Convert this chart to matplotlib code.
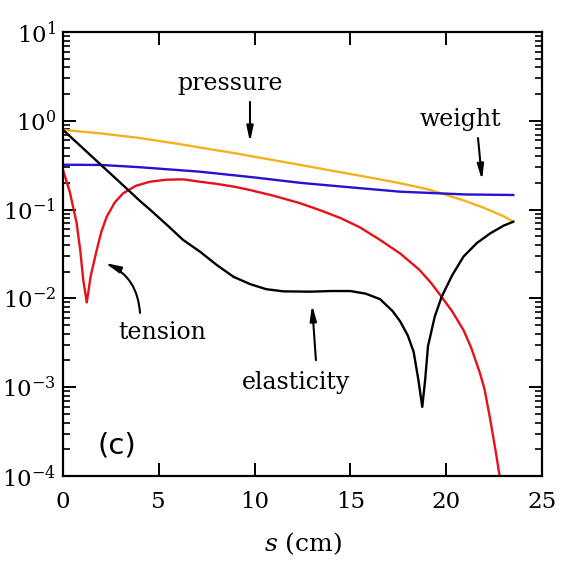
import numpy as np
import matplotlib.pyplot as plt
from matplotlib.ticker import LogLocator, FixedLocator, NullFormatter

plt.rcParams['font.family'] = 'DejaVu Serif'
plt.rcParams['mathtext.fontset'] = 'dejavuserif'
plt.rcParams['axes.unicode_minus'] = False

# pressure (orange)
s_pressure = [0, 2, 4, 6, 7.15, 9, 11, 12.4, 14, 16, 17.6, 19, 19.76, 21, 22, 23, 23.5]
pressure = [0.79, 0.72, 0.64, 0.55, 0.50, 0.43, 0.36, 0.318, 0.275, 0.23, 0.198,
            0.17, 0.152, 0.125, 0.104, 0.084, 0.073]

# weight (blue)
s_weight = [0, 2, 4, 7.15, 10, 12.4, 15, 17.6, 19.76, 21, 23.5]
weight = [0.32, 0.318, 0.30, 0.267, 0.23, 0.20, 0.178, 0.159, 0.152, 0.148, 0.146]

# tension (red)
s_tension = [0, 0.35, 0.71, 0.9, 1.06, 1.24, 1.45, 1.76, 2.0, 2.28, 2.7, 3.13, 3.8,
             4.54, 5.4, 6.27, 7.15, 8.0, 9.0, 9.76, 11, 12.37, 13.5, 14.5, 15.5,
             16.55, 17.6, 18.6, 19.2, 19.76, 20.3, 20.9, 21.3, 21.76, 22.0, 22.3,
             22.6, 22.9]
tension = [0.28, 0.16, 0.071, 0.035, 0.016, 0.009, 0.018, 0.035, 0.056, 0.083,
           0.12, 0.152, 0.185, 0.206, 0.217, 0.219, 0.206, 0.195, 0.18, 0.166,
           0.143, 0.118, 0.097, 0.08, 0.063, 0.0455, 0.032, 0.021, 0.015, 0.0104,
           0.0072, 0.0044, 0.0028, 0.00144, 0.00095, 0.00043, 0.00018, 0.00007]

# elasticity (black)
s_elastic = [0, 1, 2, 3, 4, 4.54, 5.5, 6.27, 7.15, 8.0, 8.9, 9.76, 10.6, 11.5, 12.9,
             14, 15, 15.8, 16.55, 17.2, 17.6, 18.0, 18.3, 18.55, 18.75, 18.9, 19.05,
             19.4, 19.76, 20.3, 20.9, 21.6, 22.3, 23, 23.5]
elastic = [0.79, 0.50, 0.316, 0.20, 0.126, 0.10, 0.065, 0.0455, 0.0336, 0.024,
           0.0175, 0.0145, 0.0127, 0.0120, 0.0119, 0.0121, 0.0121, 0.0113, 0.0098,
           0.0072, 0.0055, 0.0038, 0.0025, 0.0012, 0.0006, 0.0012, 0.0029, 0.0062,
           0.0104, 0.018, 0.0295, 0.042, 0.054, 0.066, 0.073]

x_ticks = [0, 5, 10, 15, 20, 25]

fig = plt.figure(figsize=(5.70, 5.71), dpi=100)
ax = fig.add_axes([0.1105, 0.1664, 0.8404, 0.7776])

ax.plot(s_pressure, pressure, color='#f2b21c', lw=1.7)
ax.plot(s_weight, weight, color='#2a10d0', lw=1.7)
ax.plot(s_tension, tension, color='#e8101a', lw=1.7)
ax.plot(s_elastic, elastic, color='black', lw=1.7)

ax.set_yscale('log')
ax.set_xlim(0, 25)
ax.set_ylim(1e-4, 1e1)
ax.xaxis.set_major_locator(FixedLocator(x_ticks))
ax.yaxis.set_major_locator(LogLocator(base=10, numticks=10))
ax.yaxis.set_minor_locator(LogLocator(base=10, subs=np.arange(2, 10), numticks=20))
ax.yaxis.set_minor_formatter(NullFormatter())

for sp in ax.spines.values():
    sp.set_linewidth(1.6)
ax.tick_params(which='major', direction='in', length=9.5, width=1.4,
               top=True, right=True, labelsize=16.5)
ax.tick_params(axis='x', which='major', pad=11)
ax.tick_params(axis='y', which='major', pad=5)
ax.tick_params(which='minor', direction='in', length=5, width=1.2,
               top=False, right=True)

ax.set_xlabel(r'$s$ (cm)', fontsize=18, labelpad=12)

arrow = dict(arrowstyle='-|>,head_length=0.65,head_width=0.14', color='black',
             lw=1.5, mutation_scale=14, shrinkA=0, shrinkB=0)

ax.text(8.72, 2.22, 'pressure', fontsize=17, ha='center', va='baseline')
ax.annotate('', xy=(9.76, 0.577), xytext=(9.76, 1.63), arrowprops=arrow)

ax.text(20.72, 0.88, 'weight', fontsize=17, ha='center', va='baseline')
ax.annotate('', xy=(21.87, 0.215), xytext=(21.66, 0.64), arrowprops=arrow)

ax.text(5.19, 0.00349, 'tension', fontsize=17, ha='center', va='baseline')
ax.annotate('', xy=(2.19, 0.0251), xytext=(4.02, 0.00686),
            arrowprops=dict(arrow, connectionstyle='arc3,rad=0.3'))

ax.text(12.19, 0.000955, 'elasticity', fontsize=17, ha='center', va='baseline')
ax.annotate('', xy=(13.0, 0.00843), xytext=(13.2, 0.00202), arrowprops=arrow)

ax.text(2.82, 2.23e-4, '(c)', fontsize=21, family='DejaVu Sans', ha='center',
        va='center')

fig.savefig('out.png', dpi=100)
